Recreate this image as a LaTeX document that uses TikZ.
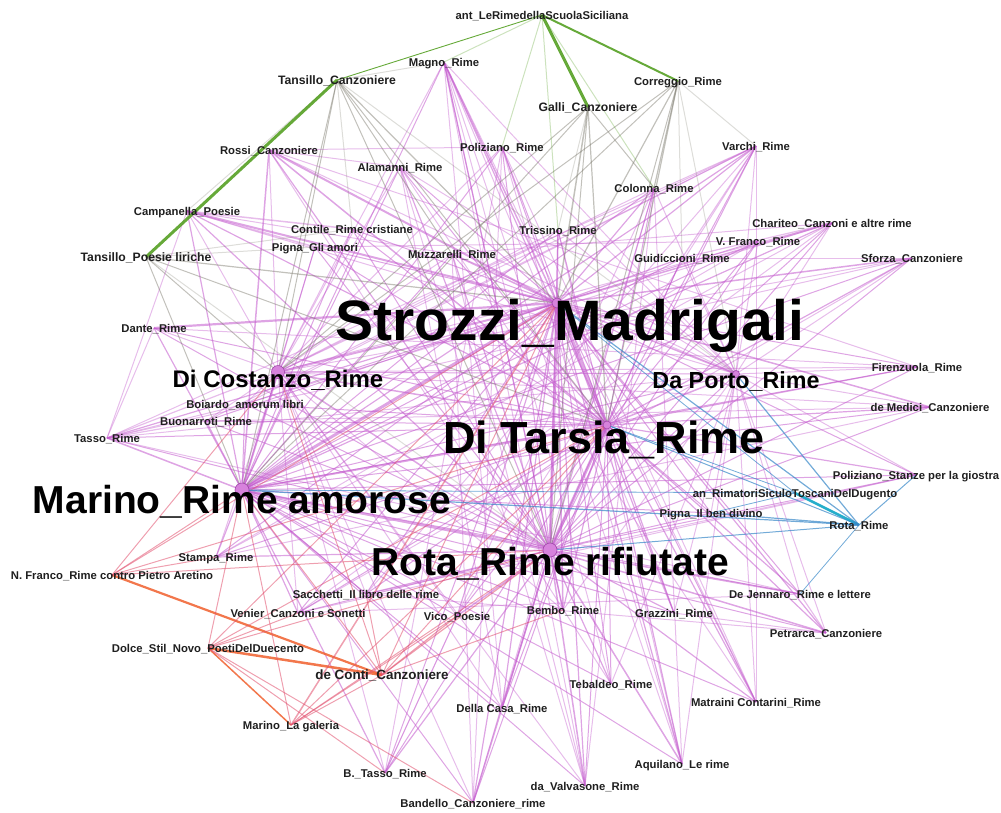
\documentclass[tikz,border=0pt]{standalone}
\usepackage{fontspec}
\setmainfont{Liberation Sans}
\pgfdeclarelayer{edges}
\pgfsetlayers{edges,main}
\definecolor{pinkE}{RGB}{195,90,205}
\definecolor{grayE}{RGB}{120,118,105}
\definecolor{greenE}{RGB}{85,160,35}
\definecolor{orangeE}{RGB}{240,95,45}
\definecolor{redE}{RGB}{225,80,110}
\definecolor{blueE}{RGB}{55,135,200}
\definecolor{cyanE}{RGB}{25,170,200}
\definecolor{dotfill}{RGB}{215,130,220}
\definecolor{dotline}{RGB}{160,70,170}
% draw edges from one node to a list of node/width pairs
\newcommand\linkto[3]{\foreach \q/\w in {#3}{\draw[#1,line width=\w] (#2.center) -- (\q.center);}}
\begin{document}
\begin{tikzpicture}[x=1pt,y=-1pt,
  lbl/.style={font=\fontsize{11.3}{12}\selectfont\bfseries,text=black!88,inner sep=0pt,text height=8pt,text depth=0pt},
  lblb/.style={lbl,font=\fontsize{12.2}{13}\selectfont\bfseries},
  hublabel/.style={font=\fontsize{#1}{#1}\selectfont\bfseries,text=black,inner sep=0pt,anchor=base},
  hubdot/.style={circle,fill=dotfill,draw=dotline,line width=0.6pt,inner sep=0pt,minimum size=#1},
  pk/.style={draw=pinkE,draw opacity=0.55},
  pkl/.style={draw=pinkE,draw opacity=0.4},
  gr/.style={draw=grayE,draw opacity=0.45},
  grl/.style={draw=grayE,draw opacity=0.25},
  gn/.style={draw=greenE,draw opacity=0.9},
  gnl/.style={draw=greenE,draw opacity=0.3},
  og/.style={draw=orangeE,draw opacity=0.85},
  rd/.style={draw=redE,draw opacity=0.55},
  bl/.style={draw=blueE,draw opacity=0.7},
  cy/.style={draw=cyanE,draw opacity=0.95}
]
\useasboundingbox (0,0) rectangle (1001,812);

% hub nodes: dot plus large label
\node[hubdot=10pt] (S) at (557,303) {};
\node[hubdot=8pt] (T) at (607,425) {};
\node[hubdot=14pt] (R) at (550,550) {};
\node[hubdot=14pt] (M) at (242,490) {};
\node[hubdot=13pt] (C) at (278,372) {};
\node[hubdot=7pt] (P) at (736,374) {};
\node[hublabel=57] (Slbl) at (570,340) {Strozzi\_Madrigali};
\node[hublabel=45] (Tlbl) at (604,453) {Di Tarsia\_Rime};
\node[hublabel=39] (Mlbl) at (242,513) {Marino\_Rime amorose};
\node[hublabel=39] (Rlbl) at (550,575) {Rota\_Rime rifiutate};
\node[hublabel=24] (Clbl) at (278,387) {Di Costanzo\_Rime};
\node[hublabel=23.3] (Plbl) at (736,388) {Da Porto\_Rime};

% other works
\node[lbl] (ant) at (542,15) {ant\_LeRimedellaScuolaSiciliana};
\node[lbl] (magno) at (444,62) {Magno\_Rime};
\node[lblb] (tanC) at (337,80) {Tansillo\_Canzoniere};
\node[lbl] (corr) at (678,81) {Correggio\_Rime};
\node[lblb] (galli) at (588,107) {Galli\_Canzoniere};
\node[lbl] (rossi) at (269,150) {Rossi\_Canzoniere};
\node[lbl] (poliz) at (502,147) {Poliziano\_Rime};
\node[lbl] (varchi) at (756,146) {Varchi\_Rime};
\node[lbl] (alam) at (400,167) {Alamanni\_Rime};
\node[lbl] (colonna) at (654,188) {Colonna\_Rime};
\node[lbl] (campan) at (187,211) {Campanella\_Poesie};
\node[lbl] (contile) at (352,229) {Contile\_Rime cristiane};
\node[lbl] (trissino) at (558,230) {Trissino\_Rime};
\node[lbl] (chariteo) at (832,223) {Chariteo\_Canzoni e altre rime};
\node[lbl] (vfranco) at (758,241) {V. Franco\_Rime};
\node[lbl] (pignaA) at (315,247) {Pigna\_Gli amori};
\node[lblb] (tanP) at (146,257) {Tansillo\_Poesie liriche};
\node[lbl] (muzz) at (452,254) {Muzzarelli\_Rime};
\node[lbl] (guid) at (682,258) {Guidiccioni\_Rime};
\node[lbl] (sforza) at (912,258) {Sforza\_Canzoniere};
\node[lbl] (dante) at (154,328) {Dante\_Rime};
\node[lbl] (firenz) at (917,367) {Firenzuola\_Rime};
\node[lbl] (boiardo) at (245,404) {Boiardo\_amorum libri};
\node[lbl] (medici) at (930,407) {de Medici\_Canzoniere};
\node[lbl] (buon) at (206,421) {Buonarroti\_Rime};
\node[lbl] (tasso) at (107,438) {Tasso\_Rime};
\node[lbl] (polizS) at (916,475) {Poliziano\_Stanze per la giostra};
\node[lbl] (anRim) at (795,493) {an\_RimatoriSiculoToscaniDelDugento};
\node[lbl] (pignaB) at (711,513) {Pigna\_Il ben divino};
\node[lbl] (rotaR) at (859,525) {Rota\_Rime};
\node[lbl] (stampa) at (216,557) {Stampa\_Rime};
\node[lbl] (nfranco) at (112,575) {N. Franco\_Rime contro Pietro Aretino};
\node[lbl] (sacch) at (366,594) {Sacchetti\_Il libro delle rime};
\node[lbl] (venier) at (298,613) {Venier\_Canzoni e Sonetti};
\node[lbl] (vico) at (457,616) {Vico\_Poesie};
\node[lbl] (bembo) at (563,610) {Bembo\_Rime};
\node[lbl] (grazz) at (674,613) {Grazzini\_Rime};
\node[lbl] (jenn) at (800,594) {De Jennaro\_Rime e lettere};
\node[lbl] (petr) at (826,633) {Petrarca\_Canzoniere};
\node[lbl] (dolce) at (208,648) {Dolce\_Stil\_Novo\_PoetiDelDuecento};
\node[lbl,font=\fontsize{13.4}{14}\selectfont\bfseries] (deconti) at (382,675) {de Conti\_Canzoniere};
\node[lbl] (tebaldeo) at (611,684) {Tebaldeo\_Rime};
\node[lbl] (dellacasa) at (502,708) {Della Casa\_Rime};
\node[lbl] (matraini) at (756,702) {Matraini Contarini\_Rime};
\node[lbl] (galeria) at (291,725) {Marino\_La galeria};
\node[lbl] (aquilano) at (682,764) {Aquilano\_Le rime};
\node[lbl] (btasso) at (385,773) {B.\_Tasso\_Rime};
\node[lbl] (valvas) at (585,786) {da\_Valvasone\_Rime};
\node[lbl] (bandello) at (473,803) {Bandello\_Canzoniere\_rime};

\begin{pgfonlayer}{edges}
% links between the hubs
\linkto{pk}{S}{T/3,R/3,M/3,C/2,P/1.5}
\linkto{pk}{T}{R/3,M/2,C/1.5,P/1.5}
\linkto{pk}{R}{M/2.5,C/1.5,P/1}
\linkto{pk}{M}{C/2,P/1}
\linkto{pk}{C}{P/1}
% hubs to the other works
\linkto{pk}{S}{magno/1.5,rossi/2,poliz/1,varchi/1.2,alam/1,colonna/1.2,campan/2,contile/1,trissino/1.5,chariteo/1.5,vfranco/1,pignaA/1,muzz/1.5,guid/1.2,sforza/1.5,dante/2.2,firenz/1,boiardo/1,medici/1.5,buon/1,tasso/1.2,polizS/1,pignaB/1,stampa/1,sacch/1,venier/1,vico/1.2,bembo/1.5,grazz/1.2,jenn/1,petr/1.2,tebaldeo/1,dellacasa/1.2,matraini/1,aquilano/1.2,btasso/1,valvas/1.2,bandello/1.2}
\linkto{pk}{T}{magno/1.2,rossi/1.5,poliz/1,varchi/1,alam/1,colonna/1,campan/1.2,contile/1,trissino/1,chariteo/1,vfranco/1,pignaA/1,muzz/1,guid/1,sforza/1.2,dante/1,firenz/1.2,boiardo/1,medici/1.2,buon/1,tasso/1,polizS/1.2,pignaB/1,stampa/1,sacch/1,venier/1,vico/1,bembo/1.2,grazz/1.2,jenn/1.2,petr/1.2,tebaldeo/1,dellacasa/1,matraini/1.2,aquilano/1.2,btasso/1,valvas/1,bandello/1}
\linkto{pk}{R}{magno/1.2,rossi/1.2,poliz/1,varchi/1,alam/1.2,colonna/1,campan/1.2,contile/1,trissino/1,chariteo/1,vfranco/1,pignaA/1,muzz/1.2,guid/1,sforza/1,dante/1,firenz/1,boiardo/1,medici/1,buon/1,tasso/1,polizS/1,pignaB/1,stampa/1.2,sacch/1.2,venier/1,vico/1.5,bembo/1.5,grazz/1.2,jenn/1.5,petr/1.5,tebaldeo/1.2,dellacasa/1.5,matraini/1.2,aquilano/1.5,btasso/1.2,valvas/1.5,bandello/1.5}
\linkto{pk}{M}{magno/1,rossi/1.5,poliz/1,varchi/1.2,alam/1,colonna/1,campan/1.2,contile/1,trissino/1,chariteo/1.2,vfranco/1,pignaA/1,muzz/1,guid/1,sforza/1,dante/1.2,firenz/1,boiardo/1,medici/1,buon/1.2,tasso/1.5,polizS/1,pignaB/1,stampa/1.2,sacch/1.2,venier/1.2,vico/1,bembo/1,grazz/1,jenn/1,petr/1,tebaldeo/1,dellacasa/1,matraini/1,aquilano/1,btasso/1.2,valvas/1,bandello/1}
\linkto{pkl}{C}{magno/1,rossi/1,poliz/1,varchi/1,alam/1,colonna/1,campan/1,contile/1,trissino/1,chariteo/1,pignaA/1,muzz/1,dante/1,boiardo/1,buon/1,tasso/1.2,stampa/1,sacch/1,venier/1,vico/1,bembo/1,btasso/1,valvas/1,bandello/1,dellacasa/1,sforza/1,firenz/1,medici/1}
\linkto{pkl}{P}{magno/1,poliz/1,varchi/1,colonna/1,trissino/1,chariteo/1,vfranco/1,guid/1,sforza/1,firenz/1,medici/1,polizS/1,pignaB/1,jenn/1,petr/1,grazz/1,matraini/1,aquilano/1,tebaldeo/1,bembo/1,muzz/1,alam/1,rossi/1,campan/1,tasso/1}
% links among the other works
\linkto{pkl}{magno}{bembo/1.2,dellacasa/1,valvas/1,aquilano/1,grazz/1,tebaldeo/1}
\linkto{pkl}{varchi}{boiardo/1,tasso/1,vico/1,sacch/1,buon/1,guid/1.2}
\linkto{pkl}{chariteo}{stampa/1,venier/1,muzz/1,boiardo/1,guid/1.2}
\linkto{pkl}{vfranco}{stampa/1,pignaA/1}
\linkto{pkl}{sforza}{venier/1,tasso/1,guid/1}
\linkto{pkl}{firenz}{rossi/1,dante/1}
\linkto{pkl}{medici}{stampa/1,buon/1}
\linkto{pkl}{polizS}{sacch/1,venier/1}
\linkto{pkl}{jenn}{tasso/1,venier/1,petr/1.2}
\linkto{pkl}{petr}{sacch/1,grazz/1}
\linkto{pkl}{matraini}{magno/1,varchi/1,poliz/1,alam/1}
\linkto{pkl}{aquilano}{poliz/1,colonna/1,trissino/1}
\linkto{pkl}{valvas}{alam/1,colonna/1,muzz/1}
\linkto{pkl}{bandello}{poliz/1,muzz/1,colonna/1}
\linkto{pkl}{btasso}{colonna/1,vico/1,poliz/1}
\linkto{pkl}{tebaldeo}{rossi/1}
\linkto{pkl}{dellacasa}{alam/1}
\linkto{pkl}{tasso}{buon/1.2,boiardo/1,dante/1,campan/1}
\linkto{pkl}{rossi}{alam/1,poliz/1}
\linkto{pkl}{campan}{contile/1.5,pignaA/1.5,muzz/1}
% grey links
\linkto{gr}{tanC}{S/1.2,T/1,R/1,M/1,C/1,muzz/1}
\linkto{gr}{galli}{S/1.5,T/1.2,R/1,M/1,C/1,colonna/1}
\linkto{gr}{corr}{S/1.2,T/1.2,R/1,M/1,C/1,colonna/1.2}
\linkto{grl}{corr}{varchi/1,guid/1,P/1}
\linkto{gr}{tanP}{S/1.2,T/1,M/1,C/1}
\linkto{grl}{tanP}{R/1,contile/1,pignaA/1}
\linkto{grl}{tanC}{magno/1,campan/1,contile/1,P/1}
\linkto{grl}{galli}{trissino/1}
% green links
\linkto{gn}{ant}{galli/3,corr/2}
\linkto{gn}{tanC}{tanP/3}
\linkto{gn}{ant}{tanC/0.9}
\linkto{gnl}{ant}{poliz/1,trissino/1,colonna/1,magno/1}
% orange and red links
\linkto{og}{nfranco}{deconti/2.2}
\linkto{og}{dolce}{deconti/2.5,galeria/1.5}
\linkto{rd}{nfranco}{stampa/1,S/1,T/1,R/1,M/1,C/1}
\linkto{rd}{galeria}{S/1.5,T/1,R/1,M/1,deconti/1,vico/1}
\linkto{rd}{deconti}{S/1,T/1,R/1.2,M/1,C/1,vico/1.2,bembo/1,sacch/1}
\linkto{rd}{dolce}{S/1,T/1,R/1,M/1,bandello/1,btasso/1,venier/1}
% blue links
\linkto{cy}{rotaR}{anRim/2.5}
\linkto{bl}{rotaR}{S/1.2,T/1,R/1,M/1.2,P/1.2,pignaB/1.2,polizS/1,jenn/0.8}
\linkto{bl}{anRim}{S/0.8,T/0.8,M/0.8,pignaB/0.8}
\end{pgfonlayer}
\end{tikzpicture}
\end{document}
